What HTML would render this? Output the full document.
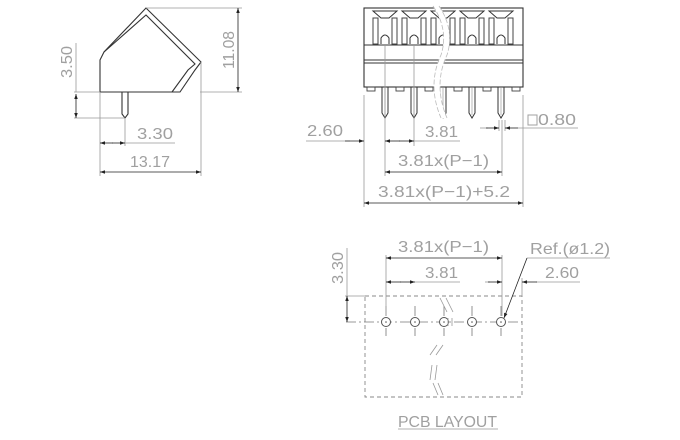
<!DOCTYPE html>
<html><head><style>
html,body{margin:0;padding:0;background:#fff;}
svg{display:block}
text{font-family:"Liberation Sans","DejaVu Sans",sans-serif;font-size:16px;fill:#a0a0a0;}
</style></head><body>
<svg width="680" height="440" viewBox="0 0 680 440" xmlns="http://www.w3.org/2000/svg">
<defs>
<marker id="a" viewBox="0 0 10 10" refX="10" refY="5" markerWidth="9" markerHeight="5" orient="auto-start-reverse" markerUnits="userSpaceOnUse"><path d="M0,1.5 L10,5 L0,8.5Z" fill="#222"/></marker>
<g id="top">
<path d="M-12,11 L12,11 L4,18 L-4,18Z" fill="none" stroke="#333" stroke-width="1"/>
<rect x="-12" y="18" width="5" height="26" fill="none" stroke="#444" stroke-width="1"/>
<rect x="7" y="18" width="5" height="26" fill="none" stroke="#444" stroke-width="1"/>
<path d="M-4,44 L-4,38 Q0,32 4,38 L4,44" fill="none" stroke="#333" stroke-width="1"/>
</g>
<g id="pin">
<path d="M-3,87 L-3,113 L0,118 L3,113 L3,87" fill="none" stroke="#333" stroke-width="1"/>
<line x1="0" y1="87" x2="0" y2="115" stroke="#888" stroke-width="0.6"/>
</g>
<g id="hole"><circle cx="0" cy="322" r="4.5" fill="#fff" stroke="#555" stroke-width="1"/><circle cx="0" cy="322" r="0.8" fill="#555"/><line x1="0" y1="306" x2="0" y2="316" stroke="#777" stroke-width="0.8"/><line x1="0" y1="328" x2="0" y2="336" stroke="#777" stroke-width="0.8"/></g>
</defs>

<!-- SIDE VIEW -->
<g fill="none" stroke="#333" stroke-width="1.1">
<path d="M100,92 L100,60 L104,52 L146,8 L201,62 L195,70 L180,92 Z"/>
<path d="M104,52 L146,15 L195,64 L188,70 L172,92"/>
<path d="M122,92 L122,114 L125,118 L128,114 L128,92"/>
</g>
<g stroke="#999" stroke-width="0.8" fill="none">
<line x1="146" y1="8" x2="242" y2="8"/><line x1="200" y1="92" x2="242" y2="92"/>
<line x1="76" y1="43" x2="76" y2="92"/><line x1="74" y1="92" x2="100" y2="92"/><line x1="74" y1="118" x2="125" y2="118"/>
<line x1="100" y1="92" x2="100" y2="176"/><line x1="125" y1="118" x2="125" y2="146"/>
<line x1="201" y1="62" x2="201" y2="176"/>
<line x1="125" y1="143" x2="175" y2="143"/>
</g>
<g stroke="#222" stroke-width="0.8">
<line x1="238" y1="8" x2="238" y2="92" marker-start="url(#a)" marker-end="url(#a)"/>
<line x1="76" y1="94" x2="76" y2="118" marker-start="url(#a)" marker-end="url(#a)"/>
<line x1="100" y1="143" x2="113" y2="143" marker-start="url(#a)"/>
<line x1="112" y1="143" x2="125" y2="143" marker-end="url(#a)"/>
<line x1="100" y1="172" x2="201" y2="172" marker-start="url(#a)" marker-end="url(#a)"/>
</g>
<text transform="translate(234,50) rotate(-90)" text-anchor="middle" textLength="38" lengthAdjust="spacingAndGlyphs">11.08</text>
<text transform="translate(72,62) rotate(-90)" text-anchor="middle" textLength="32" lengthAdjust="spacingAndGlyphs">3.50</text>
<text x="137" y="139" textLength="36" lengthAdjust="spacingAndGlyphs">3.30</text>
<text x="130" y="167" textLength="40" lengthAdjust="spacingAndGlyphs">13.17</text>

<!-- FRONT VIEW -->
<g fill="none" stroke="#333" stroke-width="1.1">
<rect x="364" y="8" width="159" height="79"/>
<line x1="364" y1="45" x2="523" y2="45"/>
<line x1="364" y1="60" x2="523" y2="60"/>
<line x1="364" y1="63" x2="523" y2="63"/>
</g>
<use href="#top" x="385"/><use href="#top" x="414"/><use href="#top" x="443"/><use href="#top" x="472"/><use href="#top" x="501"/>
<use href="#pin" x="385"/><use href="#pin" x="414"/><use href="#pin" x="443"/><use href="#pin" x="472"/><use href="#pin" x="501"/>
<g fill="none" stroke="#444" stroke-width="0.9">
<rect x="367" y="87" width="8" height="4"/><rect x="396" y="87" width="8" height="4"/><rect x="425" y="87" width="8" height="4"/><rect x="454" y="87" width="8" height="4"/><rect x="483" y="87" width="8" height="4"/><rect x="512" y="87" width="8" height="4"/>
</g>
<path d="M436,6 Q452,30 444,55 Q430,85 444,118" fill="none" stroke="#fff" stroke-width="6"/>
<path d="M433,6 Q449,30 441,55 Q427,85 441,118" fill="none" stroke="#bbb" stroke-width="0.8" stroke-dasharray="5,2"/>
<path d="M439,6 Q455,30 447,55 Q433,85 447,118" fill="none" stroke="#bbb" stroke-width="0.8" stroke-dasharray="5,2"/>
<g stroke="#999" stroke-width="0.8" fill="none">
<line x1="364" y1="95" x2="364" y2="207"/><line x1="523" y1="95" x2="523" y2="207"/>
<line x1="385" y1="45" x2="385" y2="176"/><line x1="414" y1="45" x2="414" y2="146"/>
<line x1="502" y1="120" x2="502" y2="176"/><line x1="499" y1="120" x2="499" y2="131"/><line x1="505" y1="120" x2="505" y2="131"/>
<line x1="306" y1="141" x2="350" y2="141"/>
<line x1="414" y1="141" x2="460" y2="141"/>
<line x1="480" y1="128" x2="488" y2="128"/><line x1="518" y1="128" x2="578" y2="128"/>
</g>
<g stroke="#222" stroke-width="0.8">
<line x1="345" y1="141" x2="364" y2="141" marker-end="url(#a)"/>
<line x1="385" y1="141" x2="400" y2="141" marker-start="url(#a)"/>
<line x1="399" y1="141" x2="414" y2="141" marker-end="url(#a)"/>
<line x1="486" y1="128" x2="499" y2="128" marker-end="url(#a)"/>
<line x1="518" y1="128" x2="505" y2="128" marker-end="url(#a)"/>
<line x1="385" y1="172" x2="502" y2="172" marker-start="url(#a)" marker-end="url(#a)"/>
<line x1="364" y1="203" x2="523" y2="203" marker-start="url(#a)" marker-end="url(#a)"/>
</g>
<text x="307" y="136" textLength="36" lengthAdjust="spacingAndGlyphs">2.60</text>
<text x="425" y="137" textLength="33" lengthAdjust="spacingAndGlyphs">3.81</text>
<rect x="528" y="115" width="9" height="10" fill="none" stroke="#a0a0a0" stroke-width="1"/>
<text x="538" y="125" textLength="38" lengthAdjust="spacingAndGlyphs">0.80</text>
<text x="398" y="166" textLength="91" lengthAdjust="spacingAndGlyphs">3.81x(P−1)</text>
<text x="378" y="197" textLength="132" lengthAdjust="spacingAndGlyphs">3.81x(P−1)+5.2</text>

<!-- PCB LAYOUT -->
<rect x="365" y="296" width="157" height="101" fill="none" stroke="#888" stroke-width="0.9" stroke-dasharray="4,3"/>
<line x1="346" y1="322" x2="522" y2="322" stroke="#777" stroke-width="0.8" stroke-dasharray="10,3,2,3"/>
<use href="#hole" x="386"/><use href="#hole" x="415"/><use href="#hole" x="444"/><use href="#hole" x="472"/><use href="#hole" x="501"/>
<g stroke="#999" stroke-width="0.8" fill="none">
<path d="M440,298 L447,312 M446,298 L453,312 M448,318 L448,326 M452,318 L452,326 M437,345 L430,355 M443,345 L436,355 M432,365 L430,380 M437,365 L435,380 M433,383 L438,395 M438,383 L443,395"/>
<line x1="347" y1="248" x2="347" y2="296"/>
<line x1="345" y1="296" x2="365" y2="296"/>
<line x1="386" y1="255" x2="386" y2="316"/>
<line x1="502" y1="255" x2="502" y2="316"/>
<line x1="415" y1="282" x2="460" y2="282"/>
<line x1="485" y1="282" x2="490" y2="282"/>
<line x1="522" y1="278" x2="522" y2="296"/>
<line x1="527" y1="258" x2="610" y2="258"/>
<line x1="536" y1="282" x2="580" y2="282"/>
<line x1="398" y1="429" x2="498" y2="429"/>
</g>
<g stroke="#222" stroke-width="0.8">
<line x1="347" y1="296" x2="347" y2="322" marker-start="url(#a)" marker-end="url(#a)"/>
<line x1="386" y1="258" x2="502" y2="258" marker-start="url(#a)" marker-end="url(#a)"/>
<line x1="386" y1="282" x2="401" y2="282" marker-start="url(#a)"/>
<line x1="400" y1="282" x2="415" y2="282" marker-end="url(#a)"/>
<line x1="488" y1="282" x2="502" y2="282" marker-end="url(#a)"/>
<line x1="537" y1="282" x2="522" y2="282" marker-end="url(#a)"/>
<line x1="527" y1="258" x2="504" y2="318" marker-end="url(#a)"/>
</g>
<text transform="translate(343,268) rotate(-90)" text-anchor="middle" textLength="32" lengthAdjust="spacingAndGlyphs">3.30</text>
<text x="398" y="252" textLength="91" lengthAdjust="spacingAndGlyphs">3.81x(P−1)</text>
<text x="425" y="278" textLength="33" lengthAdjust="spacingAndGlyphs">3.81</text>
<text x="530" y="254" textLength="80" lengthAdjust="spacingAndGlyphs">Ref.(ø1.2)</text>
<text x="545" y="278" textLength="34" lengthAdjust="spacingAndGlyphs">2.60</text>
<text x="398" y="427" font-size="14" textLength="99" lengthAdjust="spacingAndGlyphs">PCB LAYOUT</text>
</svg>
</body></html>
